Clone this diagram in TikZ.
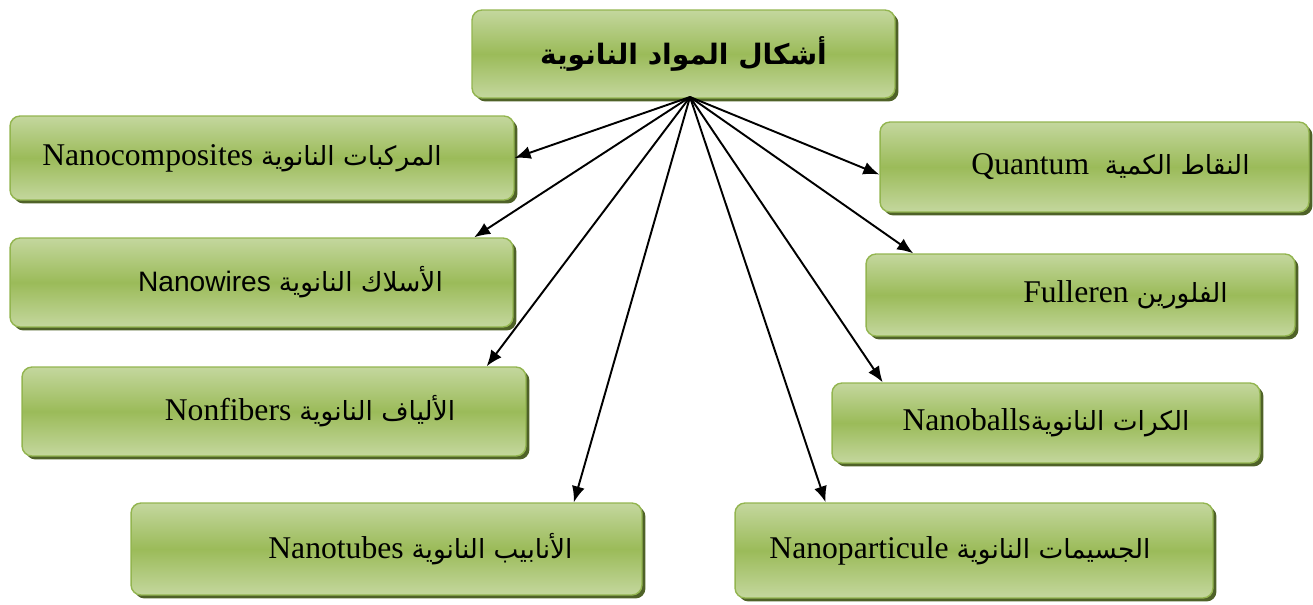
\documentclass[tikz,border=0pt]{standalone}
\usepackage{fontspec}
\setmainfont{Liberation Serif}
\newfontfamily\arabicfont[Script=Arabic]{DejaVu Sans}
\newfontfamily\wiresfont{Liberation Sans}
\TeXXeTstate=1
\usetikzlibrary{arrows.meta,shadows}

\definecolor{boxlight}{HTML}{C4D79E}
\definecolor{boxmid}{HTML}{9BBB59}
\definecolor{boxedge}{HTML}{93B550}
\definecolor{boxshadow}{HTML}{4F6228}

\newcommand\artext[1]{{\arabicfont\fontsize{15}{18}\selectfont\beginR #1\endR}}
\newcommand\nudge[2]{\hspace*{#1}#2\hspace*{-#1}}

\begin{document}
\begin{tikzpicture}[x=0.02cm,y=-0.02cm,->,>={Latex[length=3.2mm,width=2.6mm]},line width=1.1pt,
    main node/.style={rectangle,rounded corners=0.2cm,draw=boxedge,line width=0.8pt,
        top color=boxlight,bottom color=boxlight,middle color=boxmid,
        drop shadow={shadow xshift=0.07cm,shadow yshift=-0.07cm,fill=boxshadow,opacity=1},
        inner sep=0pt,text=black,font=\fontsize{18}{20}\selectfont}]

    \useasboundingbox (0,0) rectangle (1313,605);

    \node[main node,minimum width=8.46cm,minimum height=1.76cm] (root) at (683.5,54)
        {{\arabicfont\bfseries\fontsize{16}{20}\selectfont\beginR أشكال المواد النانوية\endR}};

    \node[main node,minimum width=10.08cm,minimum height=1.68cm] (comp) at (262,158)
        {\nudge{-0.4cm}{Nanocomposites \artext{المركبات النانوية}}};
    \node[main node,minimum width=10.06cm,minimum height=1.78cm] (wires) at (261.5,282.5)
        {\nudge{0.58cm}{{\wiresfont\fontsize{16}{18}\selectfont Nanowires} \artext{الأسلاك النانوية}}};
    \node[main node,minimum width=10.08cm,minimum height=1.78cm] (fibers) at (274,411.5)
        {\nudge{0.72cm}{Nonfibers \artext{الألياف النانوية}}};
    \node[main node,minimum width=10.22cm,minimum height=1.84cm] (tubes) at (386.5,549)
        {\nudge{0.68cm}{Nanotubes \artext{الأنابيب النانوية}}};

    \node[main node,minimum width=8.58cm,minimum height=1.8cm] (quantum) at (1094.5,167)
        {\nudge{0.32cm}{Quantum\ \ \artext{النقاط الكمية}}};
    \node[main node,minimum width=8.58cm,minimum height=1.64cm] (fulleren) at (1080.5,295)
        {\nudge{0.9cm}{Fulleren \artext{الفلورين}}};
    \node[main node,minimum width=8.56cm,minimum height=1.6cm] (balls) at (1046,423)
        {Nanoballs\artext{الكرات النانوية}};
    \node[main node,minimum width=9.56cm,minimum height=1.9cm] (particule) at (974,550.5)
        {\nudge{-0.28cm}{Nanoparticule \artext{الجسيمات النانوية}}};

    \coordinate (hub) at (690,97);

    \path
        (hub) edge (comp.east)
        (hub) edge (wires.12)
        (hub) edge (fibers.12)
        (hub) edge (tubes.14)

        (hub) edge (quantum.182)
        (hub) edge (fulleren.166)
        (hub) edge (balls.166)
        (hub) edge (particule.162)
        ;
\end{tikzpicture}
\end{document}
